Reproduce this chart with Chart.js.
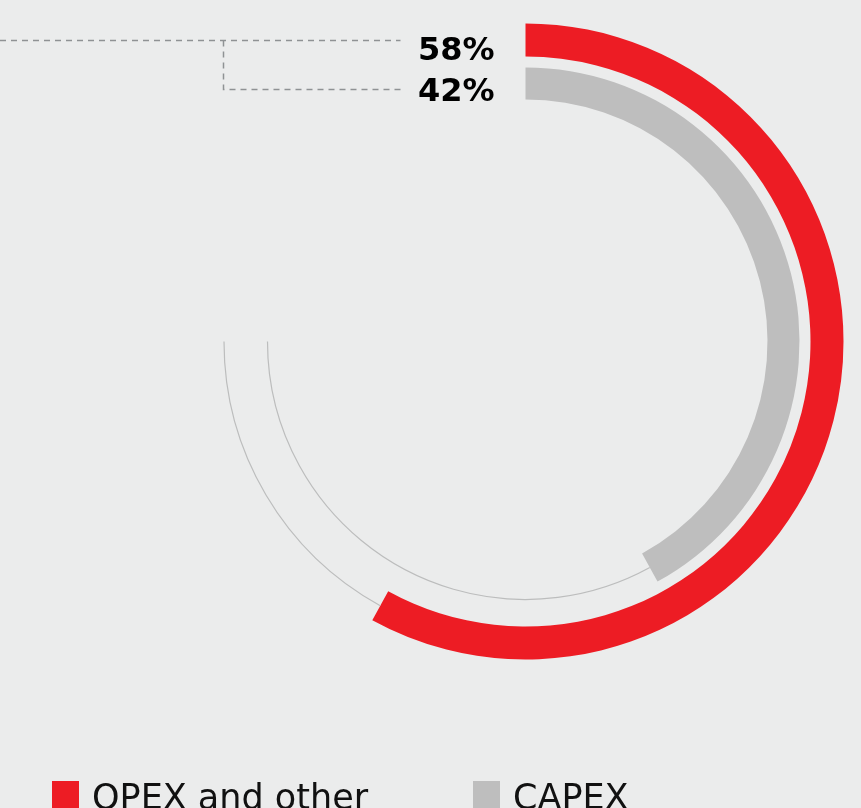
<!DOCTYPE html>
<html>
<head>
<meta charset="utf-8">
<script src="https://cdn.jsdelivr.net/npm/chart.js@4.4.1/dist/chart.umd.min.js"></script>
<style>
  html, body { margin: 0; padding: 0; background: #ebecec; overflow: hidden; }
  #wrap { width: 861px; height: 808px; position: relative; }
</style>
</head>
<body>
<div id="wrap"><canvas id="spendChart" width="861" height="808"></canvas></div>
<script>
    "use strict";

    // spend split, percent of a full turn
    const categories = ["OPEX and other", "CAPEX"];
    const shares = [58, 42];
    const colors = ["#ed1c24", "#bebebe"];
    const trackColor = "#bcbdbd";
    const leaderColor = "#8f9294";

    // ring thickness (outer ring, gap, inner ring)
    const ringWeights = [33, 11, 32];
    const CLEAR = "rgba(0,0,0,0)";

    // thin guide line from each bar end round to 9 o'clock
    const trackPlugin = {
        id: "trackPlugin",
        afterDatasetsDraw: function (chart) {
            const ctx = chart.ctx;
            [0, 2].forEach(function (di) {
                const arc = chart.getDatasetMeta(di).data[0];
                const r = (arc.innerRadius + arc.outerRadius) / 2;
                ctx.save();
                ctx.strokeStyle = trackColor;
                ctx.lineWidth = 1.2;
                ctx.beginPath();
                ctx.arc(arc.x, arc.y, r, arc.endAngle, arc.startAngle + Math.PI * 1.5);
                ctx.stroke();
                ctx.restore();
            });
        }
    };

    // value labels with dashed leaders, top left of the rings
    const valueLabelPlugin = {
        id: "valueLabelPlugin",
        afterDraw: function (chart) {
            const ctx = chart.ctx;
            const outer = chart.getDatasetMeta(0).data[0];
            const midR = (outer.innerRadius + outer.outerRadius) / 2;
            const y1 = Math.round(outer.y - midR) + 0.5;
            const y2 = y1 + 49;
            const xv = Math.round(outer.x - midR) - 0.5;
            const xEnd = outer.x - 125;

            ctx.save();
            ctx.strokeStyle = leaderColor;
            ctx.lineWidth = 1.5;
            ctx.setLineDash([6, 5]);
            ctx.beginPath();
            ctx.moveTo(0, y1);
            ctx.lineTo(xEnd, y1);
            ctx.moveTo(xv, y1);
            ctx.lineTo(xv, y2);
            ctx.lineTo(xEnd, y2);
            ctx.stroke();
            ctx.setLineDash([]);

            ctx.fillStyle = "#000000";
            ctx.font = "bold 32px 'DejaVu Sans'";
            ctx.textAlign = "right";
            ctx.textBaseline = "alphabetic";
            const xText = outer.x - 31;
            ctx.fillText(shares[0] + "%", xText, y1 + 19);
            ctx.fillText(shares[1] + "%", xText, y1 + 60);
            ctx.restore();
        }
    };

    // legend along the bottom edge
    const legendPlugin = {
        id: "legendPlugin",
        afterDraw: function (chart) {
            const ctx = chart.ctx;
            const top = 781;
            const box = 27;
            ctx.save();
            ctx.font = "35px 'DejaVu Sans'";
            ctx.textAlign = "left";
            ctx.textBaseline = "alphabetic";
            categories.forEach(function (name, i) {
                const x = 52 + i * 421;
                ctx.fillStyle = colors[i];
                ctx.fillRect(x, top, box, box);
                ctx.fillStyle = "#111111";
                ctx.fillText(name, x + box + 13, top + 28);
            });
            ctx.restore();
        }
    };

    new Chart(document.getElementById("spendChart"), {
        type: "doughnut",
        data: {
            labels: categories,
            datasets: [{
                label: categories[0],
                data: [shares[0], 100 - shares[0]],
                backgroundColor: [colors[0], CLEAR],
                borderWidth: 0,
                weight: ringWeights[0]
            }, {
                label: "gap",
                data: [100],
                backgroundColor: [CLEAR],
                borderWidth: 0,
                weight: ringWeights[1]
            }, {
                label: categories[1],
                data: [shares[1], 100 - shares[1]],
                backgroundColor: [colors[1], CLEAR],
                borderWidth: 0,
                weight: ringWeights[2]
            }]
        },
        options: {
            responsive: false,
            animation: false,
            events: [],
            cutout: "76.1%",
            layout: {
                padding: { left: 207.5, right: 17.5, top: 23.5, bottom: 148.5 }
            },
            plugins: {
                legend: { display: false },
                tooltip: { enabled: false }
            }
        },
        plugins: [trackPlugin, valueLabelPlugin, legendPlugin]
    });
</script>
</body>
</html>
